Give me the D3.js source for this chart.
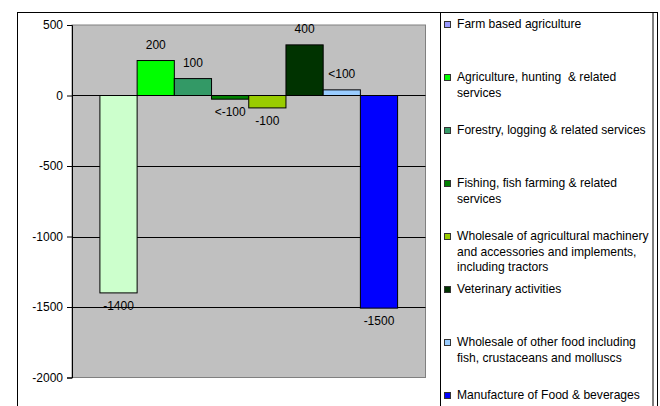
<!DOCTYPE html>
<html><head><meta charset="utf-8">
<script src="https://cdn.jsdelivr.net/npm/d3@7"></script>
<style>body{margin:0;background:#fff}svg{display:block;font-family:"Liberation Sans",Arial,sans-serif}</style>
</head><body>
<script>
const categories = ["Farm based agriculture","Agriculture, hunting & related services","Forestry, logging & related services","Fishing, fish farming & related services","Wholesale of agricultural machinery and accessories and implements, including tractors","Veterinary activities","Wholesale of other food including fish, crustaceans and molluscs","Manufacture of Food & beverages"];
const values = [-1400, 248, 120, -26, -88, 359, 40, -1508];
const valueLabels = ["-1400","200","100","<-100","-100","400","<100","-1500"];
const barColors = ["#CCFFCC","#00FF00","#339966","#008000","#99CC00","#003300","#99CCFF","#0000FF"];
const legendColors = ["#9999FF","#00FF00","#339966","#008000","#99CC00","#003300","#99CCFF","#0000FF"];
const legendLines = [
  ["Farm based agriculture"],
  ["Agriculture, hunting  & related","services"],
  ["Forestry, logging & related services"],
  ["Fishing, fish farming & related","services"],
  ["Wholesale of agricultural machinery","and accessories and implements,","including tractors"],
  ["Veterinary activities"],
  ["Wholesale of other food including","fish, crustaceans and molluscs"],
  ["Manufacture of Food & beverages"]
];
const yTicks = [500, 0, -500, -1000, -1500, -2000];

const W = 660, H = 406;
const svg = d3.select("body").append("svg").attr("width", W).attr("height", H);

// outer chart frame
svg.append("rect").attr("x", 17.5).attr("y", 12.5).attr("width", 640).attr("height", 420)
  .attr("fill", "#fff").attr("stroke", "#000").attr("stroke-width", 1);

const plot = {l: 72, r: 425.5, t: 25, b: 377.5};
const x = d3.scaleBand().domain(d3.range(values.length)).range([plot.l, plot.r]).paddingInner(0).paddingOuter(0.75);
const y = d3.scaleLinear().domain([-2000, 500]).range([plot.b, plot.t]);

svg.append("rect").attr("x", plot.l).attr("y", plot.t).attr("width", plot.r - plot.l).attr("height", plot.b - plot.t)
  .attr("fill", "#C0C0C0").attr("stroke", "#808080").attr("stroke-width", 1);

// gridlines
svg.append("g").selectAll("line").data(yTicks.filter(t => t !== 500 && t !== -2000 && t !== 0)).join("line")
  .attr("x1", plot.l).attr("x2", plot.r).attr("y1", d => Math.round(y(d)) + 0.5).attr("y2", d => Math.round(y(d)) + 0.5)
  .attr("stroke", "#000").attr("stroke-width", 1);

// bars
svg.append("g").selectAll("rect").data(values).join("rect")
  .attr("x", (d, i) => x(i)).attr("width", x.bandwidth())
  .attr("y", d => y(Math.max(0, d))).attr("height", d => Math.abs(y(d) - y(0)))
  .attr("fill", (d, i) => barColors[i]).attr("stroke", "#000").attr("stroke-width", 1);

// zero line
svg.append("line").attr("x1", plot.l).attr("x2", plot.r).attr("y1", Math.round(y(0)) + 0.5).attr("y2", Math.round(y(0)) + 0.5)
  .attr("stroke", "#000").attr("stroke-width", 1);

// y axis
const yAxis = d3.axisLeft(y).tickValues(yTicks).tickSize(5).tickPadding(4).tickFormat(d => String(d));
const ga = svg.append("g").attr("transform", `translate(${plot.l},0)`).call(yAxis);
ga.select(".domain").attr("stroke", "#000");
ga.selectAll(".tick line").attr("stroke", "#000");
ga.selectAll("text").attr("font-size", 12).attr("fill", "#000").attr("font-family", "Liberation Sans, Arial, sans-serif");

// value labels
svg.append("g").selectAll("text").data(values).join("text")
  .attr("x", (d, i) => x(i) + x.bandwidth() / 2)
  .attr("y", d => d >= 0 ? y(d) - 11.5 : y(d) + 17)
  .attr("text-anchor", "middle").attr("font-size", 12).attr("fill", "#000")
  .text((d, i) => valueLabels[i]);

// legend
svg.append("rect").attr("x", 440.5).attr("y", 12.5).attr("width", 212.5).attr("height", 420)
  .attr("fill", "#fff").attr("stroke", "#000").attr("stroke-width", 1);
const lg = svg.append("g").selectAll("g").data(categories).join("g")
  .attr("transform", (d, i) => `translate(0,${24 + i * 53})`);
lg.append("rect").attr("x", 444.5).attr("y", -2.5).attr("width", 6).attr("height", 6)
  .attr("fill", (d, i) => legendColors[i]).attr("stroke", "#333").attr("stroke-width", 1);
lg.each(function(d, i) {
  const t = d3.select(this).append("text").attr("x", 457).attr("y", 4.3).attr("font-size", 12.1).attr("fill", "#000")
    .attr("xml:space", "preserve").style("white-space", "pre");
  legendLines[i].forEach((ln, j) => t.append("tspan").attr("x", 457).attr("dy", j === 0 ? 0 : 15.5).text(ln));
});
</script>
</body></html>
